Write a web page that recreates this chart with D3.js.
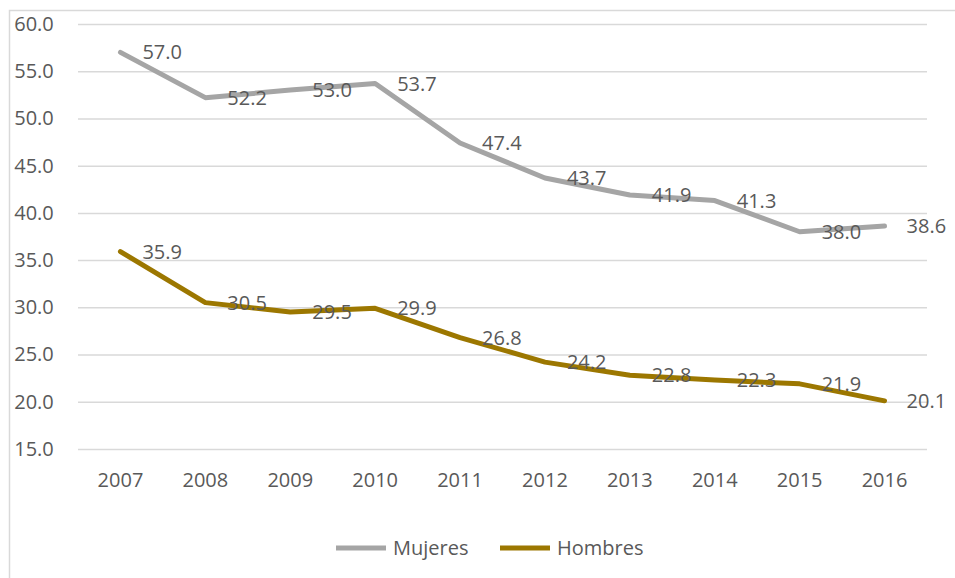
<!DOCTYPE html>
<html>
<head>
<meta charset="utf-8">
<script src="https://cdn.jsdelivr.net/npm/d3@7"></script>
<style>
  body { margin: 0; background: #fff; }
  text { font-family: "Open Sans", sans-serif; fill: #595959; }
</style>
</head>
<body>
<svg id="chart"></svg>
<script>
const years = ['2007', '2008', '2009', '2010', '2011', '2012', '2013', '2014', '2015', '2016'];
const mujeres = [57.0, 52.2, 53.0, 53.7, 47.4, 43.7, 41.9, 41.3, 38.0, 38.6];
const hombres = [35.9, 30.5, 29.5, 29.9, 26.8, 24.2, 22.8, 22.3, 21.9, 20.1];
const yTicks = [15, 20, 25, 30, 35, 40, 45, 50, 55, 60];

const series = [
    {name: 'Mujeres', values: mujeres, color: '#A5A5A5'},
    {name: 'Hombres', values: hombres, color: '#9C7700'}
];

const width = 955, height = 578;
const margin = {top: 24, right: 28, bottom: 129, left: 78};
const innerW = width - margin.left - margin.right;
const innerH = height - margin.top - margin.bottom;
const fontSize = '20px';

const svg = d3.select('#chart')
    .attr('width', width)
    .attr('height', height);

// outer chart border (runs off the right and bottom edges)
svg.append('rect')
    .attr('x', 9.5)
    .attr('y', 10.5)
    .attr('width', 960)
    .attr('height', 600)
    .attr('fill', 'none')
    .attr('stroke', '#D9D9D9')
    .attr('stroke-width', 1.5);

const chart = svg.append('g')
    .attr('transform', `translate(${margin.left},${margin.top})`);

const xScale = d3.scaleBand()
    .domain(years)
    .range([0, innerW]);

const yScale = d3.scaleLinear()
    .domain([15, 60])
    .range([innerH, 0]);

// gridlines + y labels
const yAxis = d3.axisLeft(yScale)
    .tickValues(yTicks)
    .tickSize(-innerW)
    .tickFormat(d3.format('.1f'));

chart.append('g')
    .attr('class', 'y-axis')
    .call(yAxis)
    .call(g => g.select('.domain').remove())
    .call(g => g.selectAll('.tick line').attr('stroke', '#D9D9D9').attr('stroke-width', 1.5))
    .call(g => g.selectAll('.tick text')
        .attr('x', -44)
        .style('text-anchor', 'middle')
        .style('font-size', fontSize)
        .style('fill', '#595959'));

const xAxis = d3.axisBottom(xScale).tickSize(0).tickPadding(24);

chart.append('g')
    .attr('class', 'x-axis')
    .attr('transform', `translate(0,${innerH})`)
    .call(xAxis)
    .call(g => g.select('.domain').remove())
    .call(g => g.selectAll('.tick text')
        .style('font-size', fontSize)
        .style('fill', '#595959'));

const xPos = (i) => xScale(years[i]) + xScale.bandwidth() / 2;

const line = d3.line()
    .x((d, i) => xPos(i))
    .y(d => yScale(d));

series.forEach(s => {
    chart.append('path')
        .datum(s.values)
        .attr('fill', 'none')
        .attr('stroke', s.color)
        .attr('stroke-width', 5)
        .attr('stroke-linejoin', 'round')
        .attr('stroke-linecap', 'round')
        .attr('d', line);

    chart.selectAll(null)
        .data(s.values)
        .join('text')
        .attr('x', (d, i) => xPos(i) + 22)
        .attr('y', d => yScale(d))
        .attr('dy', '0.35em')
        .style('font-size', fontSize)
        .text(d => d.toFixed(1));
});

// legend
const legend = svg.append('g')
    .attr('transform', 'translate(336,548)');

const legendX = [0, 164];
series.forEach((s, i) => {
    const g = legend.append('g').attr('transform', `translate(${legendX[i]},0)`);
    g.append('line')
        .attr('x1', 0).attr('x2', 50)
        .attr('stroke', s.color)
        .attr('stroke-width', 5);
    g.append('text')
        .attr('x', 57)
        .attr('dy', '0.35em')
        .style('font-size', fontSize)
        .text(s.name);
});
</script>
</body>
</html>
